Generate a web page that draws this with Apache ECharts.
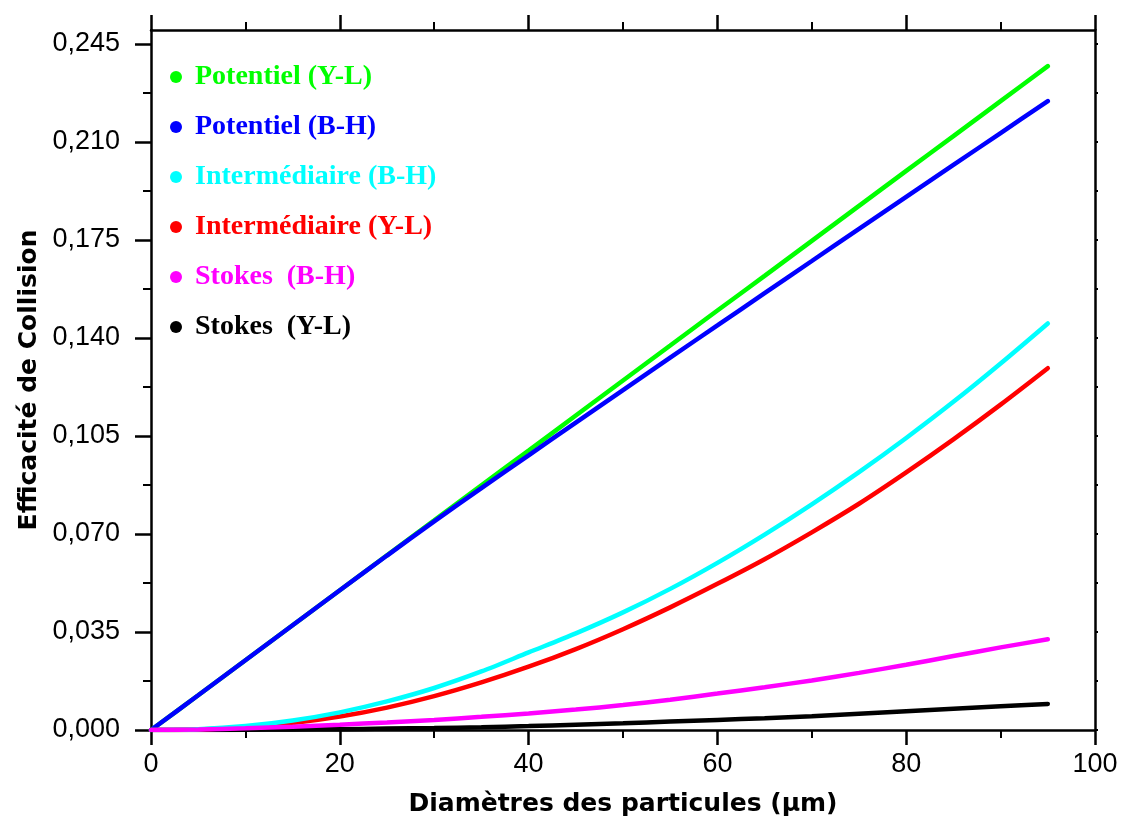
<!DOCTYPE html>
<html>
<head>
<meta charset="utf-8">
<script src="https://cdn.jsdelivr.net/npm/echarts@6/dist/echarts.min.js"></script>
<style>
  html, body { margin: 0; padding: 0; background: #fff; }
  #chart { width: 1122px; height: 826px; }
</style>
</head>
<body>
<div id="chart"></div>
<script>
// diametres (um)
var diam = [0, 5, 10, 15, 20, 25, 30, 35, 40, 45, 50, 55, 60, 65, 70, 75, 80, 85, 90, 95];

var potYL = [0, 0.0124, 0.0249, 0.0374, 0.0499, 0.0624, 0.0749, 0.0874, 0.0998, 0.1123, 0.1248, 0.1373, 0.1498, 0.1622, 0.1747, 0.1872, 0.1997, 0.2121, 0.2246, 0.2371];
var potBH = [0, 0.0124, 0.0249, 0.0374, 0.0499, 0.0623, 0.0745, 0.0864, 0.0981, 0.1098, 0.1214, 0.1330, 0.1445, 0.1560, 0.1675, 0.1790, 0.1904, 0.2018, 0.2132, 0.2246];
var interBH = [0, 0.0003, 0.0014, 0.0034, 0.0063, 0.0102, 0.0150, 0.0209, 0.0277, 0.0345, 0.0420, 0.0504, 0.0597, 0.0698, 0.0806, 0.0921, 0.1043, 0.1172, 0.1309, 0.1452];
var interYL = [0, 0.0002, 0.0010, 0.0025, 0.0048, 0.0080, 0.0121, 0.0170, 0.0226, 0.0289, 0.0360, 0.0438, 0.0522, 0.0610, 0.0706, 0.0808, 0.0920, 0.1038, 0.1162, 0.1292];
var stokesBH = [0, 0.0002, 0.0006, 0.0012, 0.0019, 0.0027, 0.0036, 0.0047, 0.0059, 0.0073, 0.0089, 0.0108, 0.0130, 0.0153, 0.0177, 0.0204, 0.0233, 0.0264, 0.0295, 0.0324];
var stokesYL = [0, 0, 0.0001, 0.0002, 0.0003, 0.0005, 0.0007, 0.0010, 0.0014, 0.0019, 0.0024, 0.0030, 0.0036, 0.0042, 0.0049, 0.0058, 0.0067, 0.0076, 0.0085, 0.0093];

var names = ['Potentiel (Y-L)', 'Potentiel (B-H)', 'Intermédiaire (B-H)', 'Intermédiaire (Y-L)', 'Stokes  (B-H)', 'Stokes  (Y-L)'];
var colors = ['#00ff00', '#0000ff', '#00ffff', '#ff0000', '#ff00ff', '#000000'];
var yTicks = [0, 0.035, 0.070, 0.105, 0.140, 0.175, 0.210, 0.245];

var yMinor = [];
for (var i = 0; i < yTicks.length - 1; i++) {
  yMinor.push((yTicks[i] + yTicks[i + 1]) / 2);
}
var yAll = yTicks.concat(yMinor);

function pairs(vals) {
  var out = [];
  for (var i = 0; i < diam.length; i++) out.push([diam[i], vals[i]]);
  return out;
}

var chart = echarts.init(document.getElementById('chart'));

var axLine = { show: true, onZero: false, lineStyle: { color: '#000', width: 2.5 } };
var labelFont = 'Liberation Sans, Arial, sans-serif';
var nameFont = { fontFamily: 'DejaVu Sans', fontWeight: 'bold', fontSize: 25, color: '#000' };

function mkSeries(idx, vals) {
  return {
    name: names[idx],
    type: 'line',
    data: pairs(vals),
    showSymbol: false,
    smooth: 0.3,
    color: colors[idx],
    lineStyle: { width: 4.5, color: colors[idx], cap: 'round' },
    emphasis: { disabled: true },
    animation: false
  };
}

var legendData = [];
for (var k = 0; k < names.length; k++) {
  legendData.push({ name: names[k], itemStyle: { color: colors[k] }, textStyle: { color: colors[k] } });
}

var option = {
  backgroundColor: '#fff',
  animation: false,
  grid: { left: 151, right: 27, top: 30, bottom: 96 },
  legend: {
    data: legendData,
    orient: 'vertical',
    left: 165,
    top: 57,
    icon: 'circle',
    itemWidth: 12,
    itemHeight: 12,
    itemGap: 20,
    textStyle: { fontFamily: 'Liberation Serif, Times New Roman, serif', fontWeight: 'bold', fontSize: 28, lineHeight: 30, padding: [0, 0, 0, 8] },
    selectedMode: false
  },
  xAxis: [{
    type: 'value',
    position: 'bottom',
    min: 0, max: 100, interval: 20,
    axisLine: axLine,
    axisTick: { show: true, length: 15, lineStyle: { color: '#000', width: 2.5 } },
    minorTick: { show: true, splitNumber: 2, length: 8, lineStyle: { color: '#000', width: 2 } },
    splitLine: { show: false },
    axisLabel: { fontFamily: labelFont, fontSize: 27, color: '#000', margin: 21 },
    name: 'Diamètres des particules (µm)',
    nameLocation: 'middle',
    nameGap: 62,
    nameTextStyle: nameFont
  }, {
    type: 'value',
    position: 'top',
    min: 0, max: 100, interval: 20,
    axisLine: axLine,
    axisTick: { show: true, length: 15, lineStyle: { color: '#000', width: 2.5 } },
    minorTick: { show: true, splitNumber: 2, length: 8, lineStyle: { color: '#000', width: 2 } },
    splitLine: { show: false },
    axisLabel: { show: false }
  }],
  yAxis: [{
    type: 'value',
    position: 'left',
    min: 0, max: 0.25, interval: 0.035,
    axisLine: axLine,
    axisTick: { show: true, length: 16, customValues: yTicks, lineStyle: { color: '#000', width: 2.5 } },
    splitLine: { show: false },
    axisLabel: {
      customValues: yTicks,
      fontFamily: labelFont, fontSize: 27, color: '#000', margin: 31,
      formatter: function (v) { return v.toFixed(3).replace('.', ','); }
    },
    name: 'Efficacité de Collision',
    nameLocation: 'middle',
    nameGap: 108,
    nameTextStyle: nameFont
  }, {
    type: 'value',
    position: 'left',
    min: 0, max: 0.25,
    axisLine: { show: false },
    axisTick: { show: true, length: 8, customValues: yMinor, lineStyle: { color: '#000', width: 2 } },
    splitLine: { show: false },
    axisLabel: { show: false }
  }, {
    type: 'value',
    position: 'right',
    min: 0, max: 0.25,
    axisLine: axLine,
    axisTick: { show: true, length: 3, customValues: yAll, lineStyle: { color: '#000', width: 2 } },
    splitLine: { show: false },
    axisLabel: { show: false }
  }],
  series: [
    mkSeries(0, potYL),
    mkSeries(1, potBH),
    mkSeries(5, stokesYL),
    mkSeries(3, interYL),
    mkSeries(2, interBH),
    mkSeries(4, stokesBH)
  ]
};

chart.setOption(option);
</script>
</body>
</html>
